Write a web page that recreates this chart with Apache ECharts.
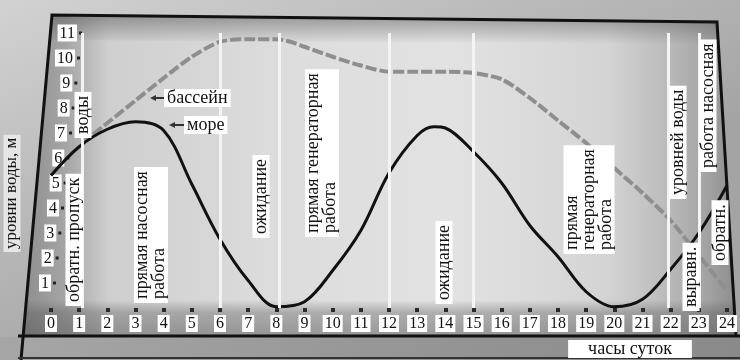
<!DOCTYPE html>
<html><head><meta charset="utf-8">
<script src="https://cdn.jsdelivr.net/npm/echarts@6/dist/echarts.min.js"></script>
<style>html,body{margin:0;padding:0;background:#c6c6c6}#c{width:740px;height:360px}</style>
</head><body><div id="c"></div>
<script>
// ---- data ----
const hourTicks = [0,1,2,3,4,5,6,7,8,9,10,11,12,13,14,15,16,17,18,19,20,21,22,23,24];
const levelTicks = [1,2,3,4,5,6,7,8,9,10,11];
const seaHours  = [0,1,2,3,4,5,6,7,8,9,10,11,12,13,13.6,14,15,16,17,18,19,20,21,22,23,24];
const seaLevels = [5.3,6.45,7.15,7.45,7.1,4.95,2.75,1.1,0.05,0.25,1.5,3.1,5.4,6.9,7.25,7.2,6.25,5.0,3.3,2.05,0.65,0.05,0.35,1.55,3.0,4.9];
const basinHours  = [1.1,2,3,4,5,6,7,8,8.5,9,10,11,12,13,14,15,16,17,18,19,20,21,22,23,24];
const basinLevels = [6.6,7.4,8.3,9.2,10.05,10.65,10.75,10.75,10.65,10.45,10.05,9.7,9.45,9.45,9.45,9.4,9.15,8.4,7.5,6.6,5.6,4.6,3.5,2.1,0.7];
const phaseBounds = [1.1,6,8.1,12,15,21.9,23];
const seriesNames = ['море','бассейн'];
const axisTitles = {x:'часы суток', y:'уровни воды, м'};
const phaseTexts = ['воды','обратн. пропуск','прямая насосная\nработа','ожидание','прямая генераторная\nработа','ожидание','прямая\nгенераторная\nработа','уровней воды','выравн.','работа насосная','обратн.'];

// ---- layout ----
const SERIF = '"Liberation Serif","DejaVu Serif",serif';
const notePos = [[83,138],[74,306],[151,303],[261,238],[322,237],[444,304],[589,254],[678,199],[691,311],[708,172],[720,265]];

const chart = echarts.init(document.getElementById('c'), null, {renderer:'canvas'});

const rich = {
  n:{backgroundColor:'#fff',color:'#111',fontFamily:SERIF,fontSize:16,lineHeight:16,padding:[1,2,0,2]},
  g:{width:2,fontSize:3,lineHeight:3},
  d:{width:3,height:3,fontSize:3,lineHeight:3,backgroundColor:'#222'}
};
levelTicks.forEach(v=>{ rich['s'+v]={width:Math.max(1,29.7-2.67*v),fontSize:3,lineHeight:3}; });

const graphics = [];
// backdrop
graphics.push({type:'rect',z:-20,shape:{x:0,y:0,width:740,height:360},style:{fill:{type:'linear',x:0,y:0,x2:0.2,y2:1,colorStops:[{offset:0,color:'#d2d2d2'},{offset:1,color:'#a4a4a4'}]}}});
// interior of the board
graphics.push({type:'polygon',z:-19,shape:{points:[[52,15],[717,22],[735,336],[24,336]]},style:{fill:{type:'linear',x:0,y:0,x2:1,y2:0,colorStops:[{offset:0,color:'#8e8e8e'},{offset:0.06,color:'#a6a6a6'},{offset:0.12,color:'#cfcfcf'},{offset:0.35,color:'#dcdcdc'},{offset:0.6,color:'#e2e2e2'},{offset:0.82,color:'#d4d4d4'},{offset:0.9,color:'#bcbcbc'},{offset:0.95,color:'#a8a8a8'},{offset:1,color:'#8e8e8e'}]}}});
// darker top band
graphics.push({type:'polygon',z:-18,shape:{points:[[52,15],[717,22],[718,44],[50,40]]},style:{fill:{type:'linear',x:0,y:0,x2:0,y2:1,colorStops:[{offset:0,color:'rgba(90,90,90,0.55)'},{offset:1,color:'rgba(90,90,90,0)'}]}}});
// darker band behind hour labels
graphics.push({type:'rect',z:-18,shape:{x:24,y:300,width:712,height:36},style:{fill:{type:'linear',x:0,y:0,x2:0,y2:1,colorStops:[{offset:0,color:'rgba(80,80,80,0)'},{offset:0.35,color:'rgba(80,80,80,0.35)'},{offset:1,color:'rgba(80,80,80,0.5)'}]}}});
// bottom strip
graphics.push({type:'rect',z:-18,shape:{x:0,y:337,width:740,height:23},style:{fill:{type:'linear',x:0,y:0,x2:1,y2:0,colorStops:[{offset:0,color:'#a6a6a6'},{offset:0.5,color:'#979797'},{offset:1,color:'#8a8a8a'}]}}});
// frame lines
graphics.push({type:'polyline',z:-17,shape:{points:[[21,360],[52,15],[717,22],[736,336]]},style:{stroke:'#111',lineWidth:3,fill:null}});
graphics.push({type:'line',z:-17,shape:{x1:18,y1:336,x2:740,y2:336},style:{stroke:'#111',lineWidth:3}});
graphics.push({type:'line',z:-17,shape:{x1:18,y1:358,x2:740,y2:358},style:{stroke:'#333',lineWidth:2}});

// rotated phase notes
phaseTexts.forEach((t,i)=>{
  graphics.push({type:'text',z:50,x:notePos[i][0],y:notePos[i][1],rotation:Math.PI/2,
    style:{text:t,font:'18px '+SERIF,fill:'#111',backgroundColor:'#fff',padding:[0,4,0,4],lineHeight:17,
      align:'left',verticalAlign:'middle',textAlign:'left',textVerticalAlign:'middle'}});
});
// y axis title (outside the board)
graphics.push({type:'text',z:50,x:12,y:252,rotation:Math.PI/2,
  style:{text:axisTitles.y,font:'17px '+SERIF,fill:'#111',backgroundColor:'#e6e6e6',padding:[0,3,0,3],
    align:'left',verticalAlign:'middle',textAlign:'left',textVerticalAlign:'middle'}});
// x axis title
graphics.push({type:'text',z:50,x:630,y:349,
  style:{text:axisTitles.x,font:'18px '+SERIF,fill:'#111',backgroundColor:'#fff',padding:[0,20,0,20],
    align:'center',verticalAlign:'middle',textAlign:'center',textVerticalAlign:'middle'}});
// series name tags with arrows
const tags = [[seriesNames[1],164,98,150],[seriesNames[0],184,125,169]];
tags.forEach(([t,x,y,tip])=>{
  graphics.push({type:'text',z:50,x:x,y:y,style:{text:t,font:'18px '+SERIF,fill:'#111',backgroundColor:'#fff',padding:[0,3,0,3],
    align:'left',verticalAlign:'middle',textAlign:'left',textVerticalAlign:'middle'}});
  graphics.push({type:'line',z:50,shape:{x1:tip+4,y1:y,x2:x,y2:y},style:{stroke:'#333',lineWidth:2}});
  graphics.push({type:'polygon',z:50,shape:{points:[[tip,y],[tip+6,y-3],[tip+6,y+3]]},style:{fill:'#333'}});
});

const option = {
  backgroundColor:'transparent',
  animation:false,
  grid:{left:51,right:8,top:33,bottom:52,show:false},
  xAxis:{type:'value',min:0,max:24,interval:1,
    axisLine:{show:false},splitLine:{show:false},
    axisTick:{show:true,length:4,lineStyle:{color:'#2a2a2a',width:4}},
    axisLabel:{margin:7,formatter:v=>hourTicks.includes(v)?String(v):'',backgroundColor:'#fff',color:'#111',fontFamily:SERIF,fontSize:16,lineHeight:16,padding:[1,2,0,2]}},
  yAxis:{type:'value',min:0,max:11,interval:1,
    axisLine:{show:false},axisTick:{show:false},splitLine:{show:false},
    axisLabel:{margin:-32,formatter:v=>levelTicks.includes(v)?('{n|'+v+'}{g| }{d| }{s'+v+'| }'):'',rich:rich}},
  graphic:{elements:graphics},
  series:[
    {type:'line',name:'phases',z:2,data:[],silent:true,
     markLine:{silent:true,symbol:['none','none'],label:{show:false},
       lineStyle:{color:'#f4f4f4',width:3,type:'solid'},
       data:phaseBounds.map(h=>({xAxis:h}))}},
    {type:'line',name:seriesNames[1],z:3,data:basinHours.map((h,i)=>[h,basinLevels[i]]),
     smooth:0.25,symbol:'none',lineStyle:{color:'#8e8e8e',width:4,type:[11,3]}},
    {type:'line',name:seriesNames[0],z:4,data:seaHours.map((h,i)=>[h,seaLevels[i]]),
     smooth:0.35,symbol:'none',lineStyle:{color:'#111',width:3}}
  ]
};
chart.setOption(option);
</script></body></html>
